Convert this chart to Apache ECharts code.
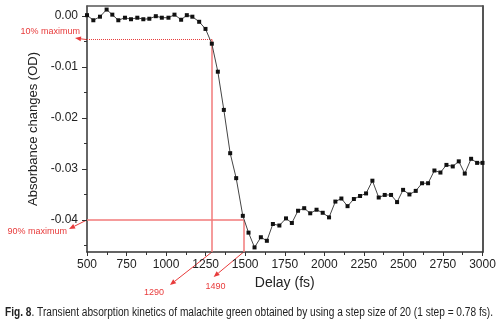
<!DOCTYPE html>
<html>
<head>
<meta charset="utf-8">
<script src="https://cdn.jsdelivr.net/npm/echarts@6/dist/echarts.min.js"></script>
<style>
  html, body { margin: 0; padding: 0; background: #fff; }
  #chart { width: 499px; height: 326px; }
</style>
</head>
<body>
<div id="chart"></div>
<script>
// transient absorption kinetics, malachite green
const delays = [500, 540, 582, 624, 660, 698, 740, 778, 818, 856, 894, 935, 973, 1015, 1053, 1095, 1131, 1166, 1209, 1249,
  1289, 1327, 1365, 1405, 1443, 1485, 1521, 1559, 1599, 1637, 1675, 1716, 1758, 1795, 1834, 1873, 1911, 1951, 1990, 2030,
  2070, 2108, 2147, 2187, 2226, 2264, 2304, 2344, 2382, 2422, 2460, 2498, 2538, 2578, 2618, 2656, 2696, 2734, 2772, 2812,
  2850, 2888, 2928, 2966, 3000];
const absorbance = [0.0002, -0.0008, -0.0001, 0.0013, 0.0003, -0.0008, -0.0003, -0.0006, -0.0003, -0.0006, -0.0005, 0.0000, -0.0003, -0.0003, 0.0003, -0.0007, 0.0002, -0.0001, -0.0011, -0.0025,
  -0.0054, -0.0109, -0.0184, -0.0269, -0.0318, -0.0392, -0.0425, -0.0454, -0.0434, -0.0441, -0.0408, -0.0411, -0.0397, -0.0406, -0.0382, -0.0377, -0.0387, -0.0380, -0.0386, -0.0395,
  -0.0364, -0.0358, -0.0373, -0.0359, -0.0353, -0.0348, -0.0323, -0.0356, -0.0351, -0.0351, -0.0365, -0.0341, -0.0350, -0.0343, -0.0328, -0.0328, -0.0303, -0.0307, -0.0292, -0.0295,
  -0.0285, -0.0309, -0.0280, -0.0288, -0.0288];
const yTicks = [0, -0.01, -0.02, -0.03, -0.04];
const yMinorTicks = [-0.005, -0.015, -0.025, -0.035, -0.045];
const tenPct = { delay: 1290, level: -0.0046, label: '10% maximum' };
const ninetyPct = { delay: 1490, level: -0.040, label: '90% maximum' };
const captionBold = 'Fig. 8';
const captionText = '. Transient absorption kinetics of malachite green obtained by using a step size of 20 (1 step = 0.78 fs).';

const Y_MIN = -0.0463, Y_MAX = 0.002;
const red = '#e83b3b';
const guide = '#f27a7a';
const axisColor = '#333';
const font = 'Liberation Sans, Arial, sans-serif';

const chart = echarts.init(document.getElementById('chart'));

const pairs = delays.map((d, i) => [d, absorbance[i]]);

chart.setOption({
  animation: false,
  grid: { left: 87, right: 16.5, top: 6, bottom: 74 },
  xAxis: [
    {
      type: 'value', min: 500, max: 3000, interval: 250,
      name: 'Delay (fs)', nameLocation: 'middle', nameGap: 24,
      nameTextStyle: { fontSize: 14, color: '#222', fontFamily: font },
      axisLine: { onZero: false, lineStyle: { color: axisColor, width: 1.5 } },
      axisTick: { length: 4, lineStyle: { color: axisColor } },
      minorTick: { show: true, splitNumber: 2, length: 3, lineStyle: { color: axisColor } },
      axisLabel: { fontSize: 12, color: '#222', margin: 7, fontFamily: font, formatter: v => String(v) },
      splitLine: { show: false }
    },
    {
      type: 'value', position: 'top', min: 500, max: 3000,
      axisLine: { show: true, onZero: false, lineStyle: { color: '#555', width: 1.5 } },
      axisTick: { show: false }, axisLabel: { show: false }, splitLine: { show: false }
    }
  ],
  yAxis: [
    {
      type: 'value', position: 'left', min: Y_MIN, max: Y_MAX,
      name: 'Absorbance changes (OD)', nameLocation: 'middle', nameGap: 42,
      nameTextStyle: { fontSize: 13, color: '#222', fontFamily: font },
      axisLine: { show: true, onZero: false, lineStyle: { color: axisColor, width: 1.5 } },
      axisTick: { show: true, length: 5, customValues: yTicks, lineStyle: { color: axisColor } },
      axisLabel: {
        fontSize: 12, color: '#222', margin: 9, fontFamily: font,
        customValues: yTicks,
        formatter: v => v.toFixed(2)
      },
      splitLine: { show: false }
    },
    {
      type: 'value', position: 'left', min: Y_MIN, max: Y_MAX,
      axisLine: { show: false, onZero: false },
      axisTick: { show: true, length: 3, customValues: yMinorTicks, lineStyle: { color: axisColor } },
      axisLabel: { show: false }, splitLine: { show: false }
    },
    {
      type: 'value', position: 'right', min: Y_MIN, max: Y_MAX,
      axisLine: { show: true, onZero: false, lineStyle: { color: '#555', width: 2 } },
      axisTick: { show: false }, axisLabel: { show: false }, splitLine: { show: false }
    }
  ],
  series: [
    {
      type: 'line',
      data: pairs,
      symbol: 'rect',
      symbolSize: 4,
      itemStyle: { color: '#111' },
      lineStyle: { color: '#444', width: 1 },
      z: 5,
      markLine: {
        silent: true,
        symbol: 'none',
        label: { show: false },
        lineStyle: { color: guide, width: 1.5, type: 'solid' },
        data: [
          [{ coord: [500, tenPct.level], lineStyle: { type: 'dotted', color: red, width: 1 } }, { coord: [tenPct.delay, tenPct.level] }],
          [{ coord: [tenPct.delay, tenPct.level] }, { coord: [tenPct.delay, Y_MIN] }],
          [{ coord: [500, ninetyPct.level] }, { coord: [ninetyPct.delay, ninetyPct.level] }],
          [{ coord: [ninetyPct.delay, ninetyPct.level] }, { coord: [ninetyPct.delay, Y_MIN] }]
        ]
      }
    }
  ]
});

// red annotation arrows, anchored to data positions
function arrow(from, to) {
  const ang = Math.atan2(to[1] - from[1], to[0] - from[0]);
  const L = 6, W = 2.5;
  const bx = to[0] - L * Math.cos(ang), by = to[1] - L * Math.sin(ang);
  const nx = -Math.sin(ang) * W, ny = Math.cos(ang) * W;
  return [
    { type: 'line', shape: { x1: from[0], y1: from[1], x2: bx, y2: by }, style: { stroke: red, lineWidth: 1 }, silent: true },
    { type: 'polygon', shape: { points: [to, [bx + nx, by + ny], [bx - nx, by - ny]] }, style: { fill: red }, silent: true }
  ];
}
const p10 = chart.convertToPixel({ xAxisIndex: 0, yAxisIndex: 0 }, [500, tenPct.level]);
const p90 = chart.convertToPixel({ xAxisIndex: 0, yAxisIndex: 0 }, [500, ninetyPct.level]);
const b10 = chart.convertToPixel({ xAxisIndex: 0, yAxisIndex: 0 }, [tenPct.delay, Y_MIN]);
const b90 = chart.convertToPixel({ xAxisIndex: 0, yAxisIndex: 0 }, [ninetyPct.delay, Y_MIN]);
const txt = (x, y, s, align) => ({
  type: 'text', x: x, y: y, silent: true,
  style: { text: s, fill: red, fontSize: 9, fontFamily: font, align: align || 'center', verticalAlign: 'middle' }
});

// caption is set in a condensed face in the original; squeeze it to the same width
const CAP_SIZE = 12;
const ctx = document.createElement('canvas').getContext('2d');
ctx.font = 'bold ' + CAP_SIZE + 'px ' + font;
let capW = ctx.measureText(captionBold).width;
ctx.font = CAP_SIZE + 'px ' + font;
capW += ctx.measureText(captionText).width;
const capScale = 488 / capW;

chart.setOption({
  graphic: [
    ...arrow(p10, [p10[0] - 12, p10[1] - 1.5]),
    txt(p10[0] - 7, p10[1] - 8, tenPct.label, 'right'),
    ...arrow(p90, [p90[0] - 18, p90[1] + 9]),
    txt(p90[0] - 20, p90[1] + 12, ninetyPct.label, 'right'),
    ...arrow(b10, [b10[0] - 42, b10[1] + 33]),
    txt(b10[0] - 58, b10[1] + 41, String(tenPct.delay)),
    ...arrow(b90, [b90[0] - 30, b90[1] + 25]),
    txt(b90[0] - 28, b90[1] + 35, String(ninetyPct.delay)),
    {
      type: 'text', x: 5, y: 313, scaleX: capScale, silent: true,
      style: {
        text: '{b|' + captionBold + '}' + captionText,
        fill: '#222', fontSize: CAP_SIZE, fontFamily: font, verticalAlign: 'middle',
        rich: { b: { fontWeight: 'bold', fontSize: CAP_SIZE, fill: '#222', fontFamily: font } }
      }
    }
  ]
});
</script>
</body>
</html>
